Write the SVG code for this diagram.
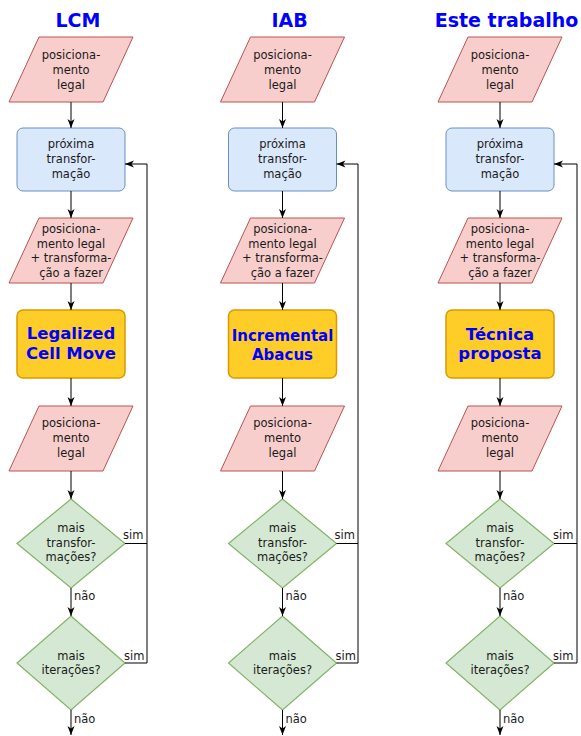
<svg xmlns="http://www.w3.org/2000/svg" width="581" height="736" viewBox="0 0 581 736">
<defs>
<style>
.t{font-family:"DejaVu Sans","Liberation Sans",sans-serif;font-size:11.5px;fill:#1a1a1a;text-anchor:middle}
.l{font-family:"DejaVu Sans","Liberation Sans",sans-serif;font-size:11.5px;fill:#1a1a1a}
.title{font-family:"DejaVu Sans","Liberation Sans",sans-serif;font-size:19px;font-weight:bold;fill:#0000ff;text-anchor:middle}
.big{font-family:"DejaVu Sans","Liberation Sans",sans-serif;font-size:16.5px;font-weight:bold;fill:#0000ff;text-anchor:middle}
.para{fill:#f8cecc;stroke:#b85450;stroke-width:1}
.blue{fill:#dae8fc;stroke:#6c8ebf;stroke-width:1}
.yel{fill:#ffcd28;stroke:#d79b00;stroke-width:1.5}
.dia{fill:#d5e8d4;stroke:#82b366;stroke-width:1.2}
.c{fill:none;stroke:#000;stroke-width:1}
</style>
<marker id="ah" markerUnits="userSpaceOnUse" markerWidth="10" markerHeight="8" refX="9" refY="3.5" orient="auto">
<path d="M0,0 L9,3.5 L0,7 L2.5,3.5 Z" fill="#000"/>
</marker>
</defs>

<!-- Column 1: LCM -->
<g transform="translate(71,0)">
<g id="c1-title"><text class="title" x="7" y="27">LCM</text></g>
<g id="c1-pos1"><polygon class="para" points="-32,37 62,37 32,102 -62,102"/>
<text class="t" x="0" y="59">posiciona-</text><text class="t" x="0" y="74">mento</text><text class="t" x="0" y="89">legal</text></g>
<g id="c1-prox"><rect class="blue" x="-54" y="128" width="108" height="63" rx="6"/>
<text class="t" x="0" y="148">próxima</text><text class="t" x="0" y="163">transfor-</text><text class="t" x="0" y="178">mação</text></g>
<g id="c1-pos2"><polygon class="para" points="-32,218 62,218 32,283 -62,283"/>
<text class="t" x="0" y="233">posiciona-</text><text class="t" x="0" y="248">mento legal</text><text class="t" x="0" y="262">+ transforma-</text><text class="t" x="0" y="277">ção a fazer</text></g>
<g id="c1-alg"><rect class="yel" x="-54" y="310" width="108" height="68" rx="6"/>
<text class="big" x="0" y="339">Legalized</text><text class="big" x="0" y="359">Cell Move</text></g>
<g id="c1-pos3"><polygon class="para" points="-32,406 62,406 32,471 -62,471"/>
<text class="t" x="0" y="427">posiciona-</text><text class="t" x="0" y="442">mento</text><text class="t" x="0" y="457">legal</text></g>
<g id="c1-dec1"><polygon class="dia" points="0,499 54,543.5 0,588 -54,543.5"/>
<text class="t" x="0" y="532">mais</text><text class="t" x="0" y="547">transfor-</text><text class="t" x="0" y="561">mações?</text></g>
<g id="c1-dec2"><polygon class="dia" points="0,616 54,663 0,710 -54,663"/>
<text class="t" x="0" y="660">mais</text><text class="t" x="0" y="674">iterações?</text></g>
<g id="c1-connectors">
<path class="c" d="M0,102 V128" marker-end="url(#ah)"/>
<path class="c" d="M0,191 V218" marker-end="url(#ah)"/>
<path class="c" d="M0,283 V310" marker-end="url(#ah)"/>
<path class="c" d="M0,378 V406" marker-end="url(#ah)"/>
<path class="c" d="M0,471 V499" marker-end="url(#ah)"/>
<path class="c" d="M0,588 V616" marker-end="url(#ah)"/>
<path class="c" d="M0,710 V735" marker-end="url(#ah)"/>
<path class="c" d="M54,543.5 H76"/>
<path class="c" d="M54,663 H76 V164 H54" marker-end="url(#ah)"/>
<text class="l" x="52" y="539">sim</text>
<text class="l" x="53" y="660">sim</text>
<text class="l" x="3" y="600">não</text>
<text class="l" x="3" y="723">não</text>
</g>
</g>

<!-- Column 2: IAB -->
<g transform="translate(282.5,0)">
<g id="c2-title"><text class="title" x="7" y="27">IAB</text></g>
<g id="c2-pos1"><polygon class="para" points="-32,37 62,37 32,102 -62,102"/>
<text class="t" x="0" y="59">posiciona-</text><text class="t" x="0" y="74">mento</text><text class="t" x="0" y="89">legal</text></g>
<g id="c2-prox"><rect class="blue" x="-54" y="128" width="108" height="63" rx="6"/>
<text class="t" x="0" y="148">próxima</text><text class="t" x="0" y="163">transfor-</text><text class="t" x="0" y="178">mação</text></g>
<g id="c2-pos2"><polygon class="para" points="-32,218 62,218 32,283 -62,283"/>
<text class="t" x="0" y="233">posiciona-</text><text class="t" x="0" y="248">mento legal</text><text class="t" x="0" y="262">+ transforma-</text><text class="t" x="0" y="277">ção a fazer</text></g>
<g id="c2-alg"><rect class="yel" x="-54" y="310" width="108" height="68" rx="6"/>
<text class="big" x="0" y="341" style="font-size:15px">Incremental</text><text class="big" x="0" y="360" style="font-size:15px">Abacus</text></g>
<g id="c2-pos3"><polygon class="para" points="-32,406 62,406 32,471 -62,471"/>
<text class="t" x="0" y="427">posiciona-</text><text class="t" x="0" y="442">mento</text><text class="t" x="0" y="457">legal</text></g>
<g id="c2-dec1"><polygon class="dia" points="0,499 54,543.5 0,588 -54,543.5"/>
<text class="t" x="0" y="532">mais</text><text class="t" x="0" y="547">transfor-</text><text class="t" x="0" y="561">mações?</text></g>
<g id="c2-dec2"><polygon class="dia" points="0,616 54,663 0,710 -54,663"/>
<text class="t" x="0" y="660">mais</text><text class="t" x="0" y="674">iterações?</text></g>
<g id="c2-connectors">
<path class="c" d="M0,102 V128" marker-end="url(#ah)"/>
<path class="c" d="M0,191 V218" marker-end="url(#ah)"/>
<path class="c" d="M0,283 V310" marker-end="url(#ah)"/>
<path class="c" d="M0,378 V406" marker-end="url(#ah)"/>
<path class="c" d="M0,471 V499" marker-end="url(#ah)"/>
<path class="c" d="M0,588 V616" marker-end="url(#ah)"/>
<path class="c" d="M0,710 V735" marker-end="url(#ah)"/>
<path class="c" d="M54,543.5 H75.5"/>
<path class="c" d="M54,663 H75.5 V164 H54" marker-end="url(#ah)"/>
<text class="l" x="52" y="539">sim</text>
<text class="l" x="53" y="660">sim</text>
<text class="l" x="3" y="600">não</text>
<text class="l" x="3" y="723">não</text>
</g>
</g>

<!-- Column 3: Este trabalho -->
<g transform="translate(500,0)">
<g id="c3-title"><text class="title" x="6.5" y="27">Este trabalho</text></g>
<g id="c3-pos1"><polygon class="para" points="-32,37 62,37 32,102 -62,102"/>
<text class="t" x="0" y="59">posiciona-</text><text class="t" x="0" y="74">mento</text><text class="t" x="0" y="89">legal</text></g>
<g id="c3-prox"><rect class="blue" x="-54" y="128" width="108" height="63" rx="6"/>
<text class="t" x="0" y="148">próxima</text><text class="t" x="0" y="163">transfor-</text><text class="t" x="0" y="178">mação</text></g>
<g id="c3-pos2"><polygon class="para" points="-32,218 62,218 32,283 -62,283"/>
<text class="t" x="0" y="233">posiciona-</text><text class="t" x="0" y="248">mento legal</text><text class="t" x="0" y="262">+ transforma-</text><text class="t" x="0" y="277">ção a fazer</text></g>
<g id="c3-alg"><rect class="yel" x="-54" y="310" width="108" height="68" rx="6"/>
<text class="big" x="0" y="340">Técnica</text><text class="big" x="0" y="359">proposta</text></g>
<g id="c3-pos3"><polygon class="para" points="-32,406 62,406 32,471 -62,471"/>
<text class="t" x="0" y="427">posiciona-</text><text class="t" x="0" y="442">mento</text><text class="t" x="0" y="457">legal</text></g>
<g id="c3-dec1"><polygon class="dia" points="0,499 54,543.5 0,588 -54,543.5"/>
<text class="t" x="0" y="532">mais</text><text class="t" x="0" y="547">transfor-</text><text class="t" x="0" y="561">mações?</text></g>
<g id="c3-dec2"><polygon class="dia" points="0,616 54,663 0,710 -54,663"/>
<text class="t" x="0" y="660">mais</text><text class="t" x="0" y="674">iterações?</text></g>
<g id="c3-connectors">
<path class="c" d="M0,102 V128" marker-end="url(#ah)"/>
<path class="c" d="M0,191 V218" marker-end="url(#ah)"/>
<path class="c" d="M0,283 V310" marker-end="url(#ah)"/>
<path class="c" d="M0,378 V406" marker-end="url(#ah)"/>
<path class="c" d="M0,471 V499" marker-end="url(#ah)"/>
<path class="c" d="M0,588 V616" marker-end="url(#ah)"/>
<path class="c" d="M0,710 V735" marker-end="url(#ah)"/>
<path class="c" d="M54,543.5 H77"/>
<path class="c" d="M54,663 H77 V164 H54" marker-end="url(#ah)"/>
<text class="l" x="53" y="539">sim</text>
<text class="l" x="53" y="660">sim</text>
<text class="l" x="3" y="600">não</text>
<text class="l" x="3" y="723">não</text>
</g>
</g>
</svg>
